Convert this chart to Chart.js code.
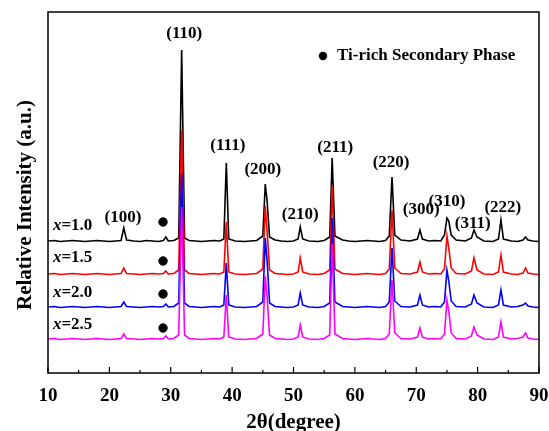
<!DOCTYPE html>
<html>
<head>
<meta charset="utf-8">
<script src="https://cdn.jsdelivr.net/npm/chart.js@4.4.1/dist/chart.umd.min.js"></script>
<style>
  html, body { margin: 0; padding: 0; background: #fff; }
  canvas { display: block; }
</style>
</head>
<body>
<canvas id="xrd" width="549" height="431"></canvas>
<script>
// 2theta positions (degree)
const twoTheta = [
  10, 11, 12, 13, 14, 15, 16, 17, 18, 19,
  20, 21, 21.9, 22.35, 22.8, 24, 25, 26, 27, 28,
  28.8, 29.2, 29.6, 30.5, 31.3, 31.78, 32.25, 33, 34, 35,
  36, 37, 38, 38.65, 39.05, 39.45, 40.5, 42, 43, 44,
  45.0, 45.4, 45.7, 46.1, 47, 48, 49, 50, 50.75, 51.1,
  51.5, 52.5, 54, 55, 55.9, 56.3, 56.75, 58, 59, 60,
  61, 62, 63, 64, 65, 65.6, 66.05, 66.5, 67.5, 69,
  70.2, 70.6, 71.0, 72, 73, 74, 74.6, 75.0, 75.3, 75.7,
  76.5, 78, 79.0, 79.4, 79.9, 81, 82.5, 83.4, 83.8, 84.2,
  85.5, 86.5, 87.4, 87.8, 88.2, 89, 90
];

// intensities (a.u., stacked with offsets)
const x10 = [
  132, 132.5, 131.5, 132, 132.5, 132, 131.5, 132, 132.5, 132,
  131.5, 132, 132.5, 145, 133, 132, 131.5, 132.5, 132, 131.5,
  132.5, 136, 132, 132.5, 135, 323, 135, 132.5, 132, 131.5,
  132, 132.5, 132, 134, 210, 134, 132, 131.5, 132, 132.5,
  137, 189, 172, 136, 133, 132, 131.5, 132, 134, 146,
  134, 132, 131.5, 132.5, 136, 215, 137, 133, 132, 131.5,
  132, 132.5, 132, 131.5, 132.5, 137, 196, 138, 133, 132,
  134, 143, 134, 132, 132.5, 132, 138, 155, 152, 138,
  133, 132, 135, 143, 136, 132, 131.5, 134, 153, 134,
  132, 131.5, 133, 136, 133, 132, 131.5
];
const x15 = [
  99, 99.5, 98.5, 99, 99.5, 99, 98.5, 99, 99.5, 99,
  98.5, 99, 99.5, 105, 99.5, 99, 98.5, 99, 99.5, 99,
  99.5, 102, 99, 99.5, 103, 243, 103, 99.5, 99, 98.5,
  99, 99.5, 99, 101, 151, 101, 99, 98.5, 99, 99.5,
  104, 167, 142, 103, 99.5, 99, 98.5, 99, 101, 115,
  101, 99, 98.5, 99.5, 103, 188, 104, 99.5, 99, 98.5,
  99, 99.5, 99, 98.5, 99.5, 104, 163, 105, 99.5, 99,
  101, 111, 101, 99, 99.5, 99, 104, 137, 125, 105,
  99.5, 99, 102, 115, 103, 99, 98.5, 101, 118, 101,
  99, 98.5, 100, 105, 100, 99, 98.5
];
const x20 = [
  66, 66.5, 65.5, 66, 66.5, 66, 65.5, 66, 66.5, 66,
  65.5, 66, 66.5, 71, 66.5, 66, 65.5, 66, 66.5, 66,
  66.5, 69, 66, 66.5, 70, 200, 70, 66.5, 66, 65.5,
  66, 66.5, 66, 68, 110, 68, 66, 65.5, 66, 66.5,
  71, 135, 112, 70, 66.5, 66, 65.5, 66, 68, 80,
  68, 66, 65.5, 66.5, 70, 155, 71, 66.5, 66, 65.5,
  66, 66.5, 66, 65.5, 66.5, 71, 125, 72, 66.5, 66,
  68, 78, 68, 66, 66.5, 66, 71, 103, 92, 72,
  66.5, 66, 69, 78, 70, 66, 65.5, 68, 83, 68,
  66, 66.5, 68, 70, 67, 66, 65.5
];
const x25 = [
  34, 34.5, 33.5, 34, 34.5, 34, 33.5, 34, 34.5, 34,
  33.5, 34, 34.5, 39, 34.5, 34, 33.5, 34, 34.5, 34,
  34.5, 37, 34, 34.5, 38, 166, 38, 34.5, 34, 33.5,
  34, 34.5, 34, 36, 78, 36, 34, 33.5, 34, 34.5,
  39, 97, 76, 38, 34.5, 34, 33.5, 34, 36, 48,
  36, 34, 33.5, 34.5, 38, 129, 39, 34.5, 34, 33.5,
  34, 34.5, 34, 33.5, 34.5, 39, 93, 40, 34.5, 34,
  36, 45, 36, 34, 34.5, 34, 39, 73, 62, 40,
  34.5, 34, 37, 46, 38, 34, 33.5, 36, 51, 36,
  34, 34.5, 36, 40, 35, 34, 33.5
];

const seriesNames = ['1.0', '1.5', '2.0', '2.5'];
const seriesColors = ['#000000', '#ff0000', '#0000ff', '#ff00ff'];

// Ti-rich secondary phase markers
const tiX = [28.74, 28.74, 28.74, 28.74];
const tiY = [151, 112, 79, 45];

// peak indices
const hklLabels = ['(100)', '(110)', '(111)', '(200)', '(210)', '(211)', '(220)', '(300)', '(310)', '(311)', '(222)'];
const hklX = [22.2, 32.2, 39.3, 45.0, 51.1, 56.8, 65.9, 70.8, 75.0, 79.2, 84.1];
const hklY = [155, 339, 227, 203, 158, 225, 210, 163, 171, 149, 165];

// series label positions
const nameX = 10.8;
const nameY = [147, 115, 80, 48];

const xTicks = [10, 20, 30, 40, 50, 60, 70, 80, 90];

const serif = '"Liberation Serif", "Times New Roman", serif';

const annotate = {
  id: 'annotate',
  afterDatasetsDraw(chart) {
    const { ctx, chartArea: a, scales: { x, y } } = chart;
    ctx.save();
    ctx.strokeStyle = '#000';
    ctx.fillStyle = '#000';

    // frame
    ctx.lineWidth = 1.5;
    ctx.strokeRect(a.left, a.top, a.right - a.left, a.bottom - a.top);

    // inward ticks, major + minor
    ctx.lineWidth = 1.2;
    for (let v = 10; v <= 90; v += 5) {
      const px = x.getPixelForValue(v);
      const len = v % 10 === 0 ? 6 : 3;
      ctx.beginPath();
      ctx.moveTo(px, a.bottom);
      ctx.lineTo(px, a.bottom - len);
      ctx.stroke();
    }

    // peak labels
    ctx.font = 'bold 17px ' + serif;
    ctx.textAlign = 'center';
    ctx.textBaseline = 'middle';
    hklLabels.forEach((t, i) => {
      ctx.fillText(t, x.getPixelForValue(hklX[i]), y.getPixelForValue(hklY[i]));
    });

    // series labels
    ctx.textAlign = 'left';
    seriesNames.forEach((n, i) => {
      const px = x.getPixelForValue(nameX);
      const py = y.getPixelForValue(nameY[i]);
      ctx.font = 'italic bold 17px ' + serif;
      ctx.fillText('x', px, py);
      const w = ctx.measureText('x').width;
      ctx.font = 'bold 17px ' + serif;
      ctx.fillText('=' + n, px + w, py);
    });

    // legend
    ctx.beginPath();
    ctx.arc(323, 56, 4.2, 0, Math.PI * 2);
    ctx.fill();
    ctx.font = 'bold 17px ' + serif;
    ctx.fillText('Ti-rich Secondary Phase', 337, 56);

    // y axis title
    ctx.font = 'bold 21px ' + serif;
    ctx.textAlign = 'center';
    ctx.translate(26, 205);
    ctx.rotate(-Math.PI / 2);
    ctx.fillText('Relative Intensity (a.u.)', 0, 0);
    ctx.restore();
  }
};

const datasets = [x10, x15, x20, x25].map((vals, i) => ({
  label: 'x=' + seriesNames[i],
  data: twoTheta.map((t, k) => ({ x: t, y: vals[k] })),
  borderColor: seriesColors[i],
  borderWidth: 1.6,
  pointRadius: 0,
  tension: 0,
  fill: false,
  order: 3 - i,
}));

datasets.push({
  type: 'scatter',
  label: 'Ti-rich Secondary Phase',
  data: tiX.map((t, k) => ({ x: t, y: tiY[k] })),
  backgroundColor: '#000',
  borderColor: '#000',
  pointRadius: 4.2,
  showLine: false,
  order: -1,
});

new Chart(document.getElementById('xrd'), {
  type: 'line',
  data: { datasets },
  options: {
    responsive: false,
    animation: false,
    layout: { padding: { top: 12, right: 10, left: 0, bottom: 0 } },
    plugins: { legend: { display: false }, tooltip: { enabled: false } },
    scales: {
      x: {
        type: 'linear',
        min: 10,
        max: 90,
        afterFit: (s) => { s.height = 58; s.paddingLeft = 0; s.paddingRight = 0; },
        afterBuildTicks: (s) => { s.ticks = xTicks.map(v => ({ value: v })); },
        grid: { display: false, drawTicks: false },
        border: { display: false },
        ticks: {
          color: '#000',
          padding: 12,
          maxRotation: 0,
          autoSkip: false,
          font: { family: serif, size: 19, weight: 'bold' },
        },
        title: {
          display: true,
          text: '2θ(degree)',
          color: '#000',
          padding: { top: 0, bottom: -2 },
          font: { family: serif, size: 21, weight: 'bold', lineHeight: 1 },
        },
      },
      y: {
        min: 0,
        max: 361,
        afterFit: (s) => { s.width = 48; },
        grid: { display: false, drawTicks: false },
        border: { display: false },
        ticks: { display: false },
      },
    },
  },
  plugins: [annotate],
});
</script>
</body>
</html>
